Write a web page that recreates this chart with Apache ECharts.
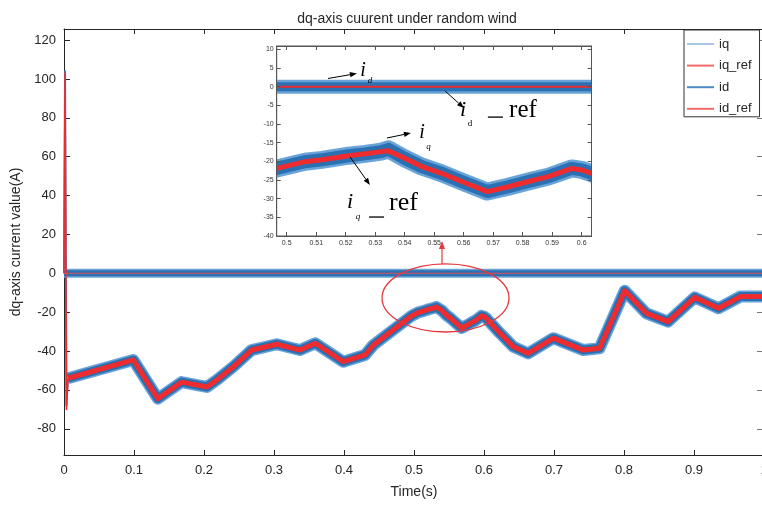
<!DOCTYPE html>
<html><head><meta charset="utf-8">
<script src="https://cdn.jsdelivr.net/npm/echarts@6/dist/echarts.min.js"></script>
<style>html,body{margin:0;padding:0;background:#fff}#c{width:762px;height:508px}</style>
</head><body><div id="c"></div>
<script>
// ---------- data ----------
const startTime   = [0, 0.0015, 0.0035, 0.0057];
const iqStart     = [0, 104, -68, -54];
const iqRefStart  = [0, 103, -70, -54];

const iqTime = [0.0057, 0.099, 0.134, 0.168, 0.19, 0.204, 0.218, 0.242, 0.268, 0.304, 0.337, 0.359,
  0.399, 0.43, 0.442, 0.47, 0.4966, 0.5062, 0.5119, 0.521, 0.5266, 0.532, 0.5345, 0.540, 0.5458,
  0.5525, 0.5593, 0.568, 0.5751, 0.5819, 0.5887, 0.5966, 0.6, 0.6034, 0.623, 0.642, 0.663, 0.699,
  0.742, 0.765, 0.801, 0.832, 0.863, 0.901, 0.935, 0.966, 1.0];
const iqValues = [-54, -44.6, -64.5, -56, -57.5, -58.5, -55, -48, -39.5, -36.5, -39.5, -36,
  -45.5, -42, -36.9, -29.2, -21.9, -20.1, -19.6, -18.5, -18, -17.4, -16.8, -19.2, -21.4,
  -23.2, -25.4, -28.1, -26.8, -25.4, -24.1, -21.9, -22.3, -23.2, -30.9, -37.8, -41.2, -33.4,
  -39.5, -38.6, -9, -20.6, -24.9, -12.4, -18, -12, -12];
const iqRefValues = [-54, -44.6, -64.5, -56, -57.5, -58.5, -55, -48, -39.5, -36.5, -39.5, -36,
  -45.5, -42, -36.9, -29.2, -21.9, -20.1, -19.6, -18.5, -18, -17.4, -17.2, -19.2, -21.4,
  -23.2, -25.4, -28.1, -26.8, -25.4, -24.1, -21.9, -22.3, -23.2, -30.9, -37.8, -41.2, -33.4,
  -39.5, -38.6, -9, -20.6, -24.9, -12.4, -18, -12, -12];

const idTime      = [0, 1];
const idValues    = [0, 0];
const idRefValues = [0, 0];

const xTickValues      = [0, 0.1, 0.2, 0.3, 0.4, 0.5, 0.6, 0.7, 0.8, 0.9, 1];
const yTickValues      = [-80, -60, -40, -20, 0, 20, 40, 60, 80, 100, 120];
const insetXTickValues = [0.5, 0.51, 0.52, 0.53, 0.54, 0.55, 0.56, 0.57, 0.58, 0.59, 0.6];
const insetYTickValues = [-40, -35, -30, -25, -20, -15, -10, -5, 0, 5, 10];

const seriesNames = ['iq', 'iq_ref', 'id', 'id_ref'];

// ---------- build ----------
const zip = (t, v) => t.map((x, i) => [x, v[i]]);
const BLUE = '#2a70b3', HALO = '#6aa3d8', RED = '#ee2b2e', AX = '#262626';
const FONT = '"Liberation Sans", Arial, sans-serif';
const SERIF = '"Liberation Serif", "Times New Roman", serif';

const chart = echarts.init(document.getElementById('c'), null, {renderer: 'canvas'});

function lineSeries(name, data, color, width, xi, yi, z) {
  return {type: 'line', name, data, xAxisIndex: xi, yAxisIndex: yi, z,
    symbol: 'none', showSymbol: false, animation: false, silent: true,
    lineStyle: {color, width, join: 'round', cap: 'butt'}, itemStyle: {color}};
}

const mainX = {gridIndex: 0, type: 'value', min: 0, max: 1, interval: 0.1, position: 'bottom',
  name: 'Time(s)', nameLocation: 'middle', nameGap: 30,
  nameTextStyle: {fontSize: 14, color: AX, fontFamily: FONT},
  axisLine: {onZero: false, lineStyle: {color: AX, width: 1}},
  axisTick: {inside: true, length: 5, lineStyle: {color: AX}},
  axisLabel: {color: AX, fontSize: 13, fontFamily: FONT, margin: 9, formatter: v => String(+v.toFixed(1))},
  splitLine: {show: false}};
const mainXTop = {gridIndex: 0, type: 'value', min: 0, max: 1, interval: 0.1, position: 'top',
  axisLine: {onZero: false, lineStyle: {color: AX}}, axisTick: {inside: true, length: 5, lineStyle: {color: AX}},
  axisLabel: {show: false}, splitLine: {show: false}};
const mainY = {gridIndex: 0, type: 'value', min: -93.5, max: 125.7, position: 'left',
  name: 'dq-axis current value(A)', nameLocation: 'middle', nameGap: 35,
  nameTextStyle: {fontSize: 14, color: AX, fontFamily: FONT},
  axisLine: {onZero: false, lineStyle: {color: AX}},
  axisTick: {inside: true, length: 6, customValues: yTickValues, lineStyle: {color: AX}},
  axisLabel: {color: AX, fontSize: 13, fontFamily: FONT, margin: 8, customValues: yTickValues},
  splitLine: {show: false}};
const mainYRight = {gridIndex: 0, type: 'value', min: -93.5, max: 125.7, position: 'right',
  axisLine: {onZero: false, lineStyle: {color: AX}},
  axisTick: {inside: true, length: 7, customValues: yTickValues, lineStyle: {color: '#777'}},
  axisLabel: {show: false}, splitLine: {show: false}};

const INS = '#333';
const insetX = {gridIndex: 1, type: 'value', min: 0.4966, max: 0.6034, position: 'bottom', z: 10,
  axisLine: {onZero: false, lineStyle: {color: '#555'}},
  axisTick: {inside: true, length: 4, customValues: insetXTickValues, lineStyle: {color: '#555'}},
  axisLabel: {color: INS, fontSize: 7, fontFamily: FONT, margin: 4, customValues: insetXTickValues,
    formatter: v => String(+v.toFixed(2))},
  splitLine: {show: false}};
const insetXTop = {gridIndex: 1, type: 'value', min: 0.4966, max: 0.6034, position: 'top', z: 10,
  axisLine: {onZero: false, lineStyle: {color: '#555'}},
  axisTick: {inside: true, length: 4, customValues: insetXTickValues, lineStyle: {color: '#555'}},
  axisLabel: {show: false}, splitLine: {show: false}};
const insetY = {gridIndex: 1, type: 'value', min: -40, max: 10.88, position: 'left', z: 10,
  axisLine: {onZero: false, lineStyle: {color: '#555'}},
  axisTick: {inside: true, length: 4, customValues: insetYTickValues, lineStyle: {color: '#555'}},
  axisLabel: {color: INS, fontSize: 7, fontFamily: FONT, margin: 3, customValues: insetYTickValues},
  splitLine: {show: false}};
const insetYRight = {gridIndex: 1, type: 'value', min: -40, max: 10.88, position: 'right', z: 10,
  axisLine: {onZero: false, lineStyle: {color: '#555'}},
  axisTick: {inside: true, length: 4, customValues: insetYTickValues, lineStyle: {color: '#555'}},
  axisLabel: {show: false}, splitLine: {show: false}};

const series = [
  // main plot
  lineSeries('iq', zip(iqTime, iqValues), HALO, 12, 0, 0, 2),
  lineSeries('iq', zip(iqTime, iqValues), BLUE, 9, 0, 0, 2),
  lineSeries('iq', zip(startTime, iqStart), '#3b7fc0', 2, 0, 0, 2),
  lineSeries('iq_ref', zip(iqTime, iqRefValues), RED, 5, 0, 0, 3),
  lineSeries('iq_ref', zip(startTime, iqRefStart), RED, 1.6, 0, 0, 3),
  lineSeries('id', zip(idTime, idValues), HALO, 9, 0, 0, 2),
  lineSeries('id', zip(idTime, idValues), BLUE, 6, 0, 0, 2),
  lineSeries('id_ref', zip(idTime, idRefValues), '#e0505a', 1, 0, 0, 3),
  // inset
  lineSeries('iq', zip(iqTime, iqValues), HALO, 18, 2, 2, 7),
  lineSeries('iq', zip(iqTime, iqValues), BLUE, 13, 2, 2, 7),
  lineSeries('iq_ref', zip(iqTime, iqRefValues), RED, 5, 2, 2, 8),
  lineSeries('id', zip(idTime, idValues), HALO, 14, 2, 2, 7),
  lineSeries('id', zip(idTime, idValues), BLUE, 9, 2, 2, 7),
  lineSeries('id_ref', zip(idTime, idRefValues), RED, 2, 2, 2, 8)
];

const legendColors = {iq: '#a9c6e4', iq_ref: '#f06a6a', id: '#4f8bc6', id_ref: '#f06a6a'};

chart.setOption({
  animation: false,
  backgroundColor: '#fff',
  title: {text: 'dq-axis cuurent under random wind', left: 402, top: 7, textAlign: 'center',
    textStyle: {fontSize: 14, fontWeight: 'normal', color: AX, fontFamily: FONT}},
  legend: {orient: 'vertical', left: 684, top: 30, padding: [6, 8, 0, 3], itemGap: 5.6,
    itemWidth: 27, itemHeight: 2, backgroundColor: '#fff', borderColor: '#333', borderWidth: 1, z: 12,
    textStyle: {fontSize: 13, color: AX, fontFamily: FONT, lineHeight: 16},
    data: seriesNames.map(n => ({name: n, icon: 'rect', itemStyle: {color: legendColors[n]}}))},
  grid: [
    {left: 64, top: 29, width: 700, height: 426, show: false, outerBoundsMode: 'none'},
    {left: 276.7, top: 46, width: 315, height: 190, show: true, backgroundColor: '#fff',
     borderColor: '#555', borderWidth: 1, z: 5, outerBoundsMode: 'none'}
  ],
  xAxis: [mainX, mainXTop, insetX, insetXTop],
  yAxis: [mainY, mainYRight, insetY, insetYRight],
  series
});

// ---------- annotations ----------
const P = (t, v) => chart.convertToPixel({xAxisIndex: 2, yAxisIndex: 2}, [t, v]);
const M = (t, v) => chart.convertToPixel({xAxisIndex: 0, yAxisIndex: 0}, [t, v]);

function arrow(p1, p2, color, w, hl) {
  const dx = p2[0] - p1[0], dy = p2[1] - p1[1], L = Math.hypot(dx, dy);
  const ux = dx / L, uy = dy / L, hw = hl * 0.38;
  const bx = p2[0] - ux * hl, by = p2[1] - uy * hl;
  return [
    {type: 'line', z: 20, shape: {x1: p1[0], y1: p1[1], x2: bx, y2: by}, style: {stroke: color, lineWidth: w}},
    {type: 'polygon', z: 20, shape: {points: [[p2[0], p2[1]], [bx - uy * hw, by + ux * hw], [bx + uy * hw, by - ux * hw]]},
     style: {fill: color}}
  ];
}
function txt(p, s, size, italic, align) {
  return {type: 'text', z: 20, x: p[0], y: p[1],
    style: {text: s, fontSize: size, fontFamily: SERIF, fontStyle: italic ? 'italic' : 'normal',
      fill: '#000', align: align || 'center', verticalAlign: 'middle'}};
}
function seg(p1, p2) {
  return {type: 'line', z: 20, shape: {x1: p1[0], y1: p1[1], x2: p2[0], y2: p2[1]}, style: {stroke: '#000', lineWidth: 1.3}};
}

const g = [];
// white side masks so the thick inset bands stop at the inset frame
const insTL = P(0.4966, 10.88), insBR = P(0.6034, -40);
g.push({type: 'rect', z: 9, shape: {x: insTL[0] - 14, y: insTL[1] - 1, width: 14, height: insBR[1] - insTL[1] + 2}, style: {fill: '#fff'}});
g.push({type: 'rect', z: 9, shape: {x: insBR[0], y: insTL[1] - 1, width: 14, height: insBR[1] - insTL[1] + 2}, style: {fill: '#fff'}});
// i_d
g.push(txt(P(0.5259, 4.19), 'i', 20, true), txt(P(0.5282, 1.51), 'd', 9, true));
g.push(...arrow(P(0.514, 2.18), P(0.5238, 3.52), '#000', 1, 7));
// i_d __ ref
g.push(txt(P(0.5598, -6.26), 'i', 22, true), txt(P(0.5621, -10.0), 'd', 9, false));
g.push(seg(P(0.5682, -8.16), P(0.5733, -8.16)));
g.push(txt(P(0.5754, -6.29), 'ref', 25, false, 'left'));
g.push(...arrow(P(0.5537, -1.17), P(0.5601, -5.72), '#000', 1, 7));
// i_q
g.push(txt(P(0.5459, -12.42), 'i', 20, true), txt(P(0.5481, -16.17), 'q', 9, true));
g.push(...arrow(P(0.534, -13.76), P(0.5421, -12.42), '#000', 1, 7));
// i_q __ ref
g.push(txt(P(0.5215, -30.9), 'i', 22, true), txt(P(0.5242, -34.92), 'q', 9, true));
g.push(seg(P(0.5279, -34.92), P(0.533, -34.92)));
g.push(txt(P(0.5347, -31.17), 'ref', 26, false, 'left'));
g.push(...arrow(P(0.5215, -18.85), P(0.5282, -26.35), '#000', 1, 7));

// red ellipse + pointer in main plot
const ellC = M(0.545, -12.7), ellX = M(0.545 + 0.0907, -12.7), ellY = M(0.545, -12.7 + 17.5);
const ellRx = ellX[0] - ellC[0], ellRy = ellC[1] - ellY[1];
g.push({type: 'ellipse', z: 20, shape: {cx: ellC[0], cy: ellC[1], rx: ellRx, ry: ellRy},
  style: {fill: 'none', stroke: '#e8383d', lineWidth: 1.3}});
const ellTop = [ellC[0] - 3.5, ellC[1] - ellRy];
const ptrTip = M(0.54, 16.6);
g.push(...arrow(ellTop, [ellTop[0], ptrTip[1]], '#e8383d', 1.2, 8));

chart.setOption({graphic: {elements: g}});
</script>
</body></html>
